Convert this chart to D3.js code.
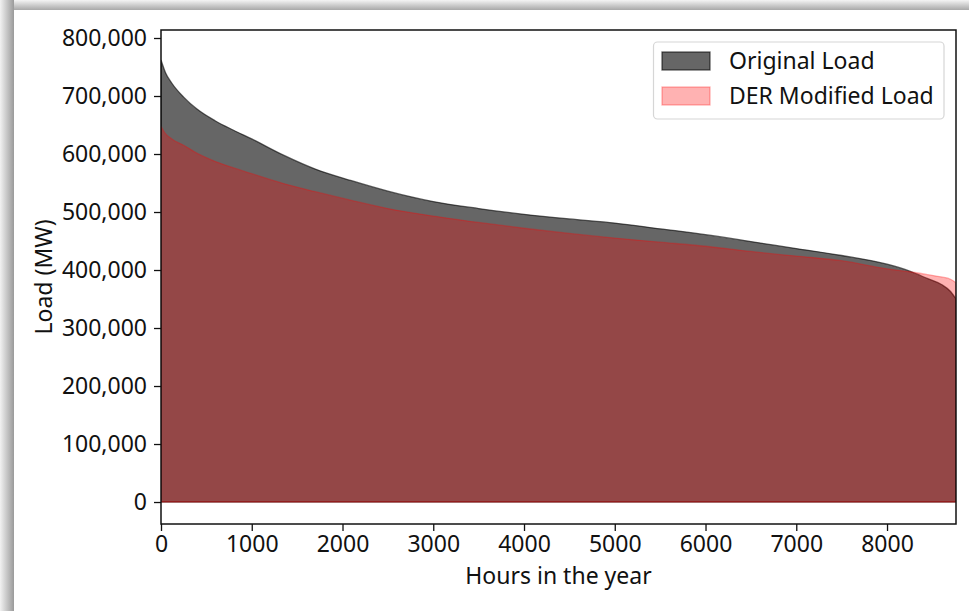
<!DOCTYPE html>
<html><head><meta charset="utf-8">
<script src="https://cdn.jsdelivr.net/npm/d3@7"></script>
<style>
body{margin:0;padding:0;background:#fff;}
svg text{font-family:"Noto Sans",sans-serif;fill:#111;}
</style></head>
<body>
<svg id="chart" width="969" height="611"></svg>
<script>
// ---- data ----
const hours = [0, 50, 120, 250, 400, 600, 800, 1000, 1350, 1700, 2100, 2500, 3000, 3500, 4000, 4500, 5000, 5500, 6000, 6500, 7000, 7500, 8000, 8250, 8450, 8600, 8700, 8760];
const originalLoad = [762000, 740000, 722000, 698000, 677000, 657000, 641000, 626000, 598000, 574000, 554000, 536000, 518000, 506000, 496000, 488000, 481000, 471000, 461000, 449000, 437000, 425000, 410000, 398000, 385000, 375000, 363000, 350000];
const derModifiedLoad = [648000, 635000, 626000, 615000, 601000, 587000, 576000, 566000, 549000, 535000, 520000, 506000, 493000, 482000, 472000, 463000, 455000, 448000, 441000, 432000, 424000, 416000, 402000, 397000, 392000, 388000, 384000, 378000];
const xTicks = [0, 1000, 2000, 3000, 4000, 5000, 6000, 7000, 8000];
const yTicks = [0, 100000, 200000, 300000, 400000, 500000, 600000, 700000, 800000];
const seriesNames = ["Original Load", "DER Modified Load"];

(function(){
const svg = d3.select("#chart");
const W = 969, H = 611;
const FS = 23;

// frame shadow
const defs = svg.append("defs");
const gl = defs.append("linearGradient").attr("id","gl").attr("x1","0").attr("x2","1").attr("y1","0").attr("y2","0");
gl.append("stop").attr("offset","0").attr("stop-color","#f2f2f2");
gl.append("stop").attr("offset","1").attr("stop-color","#9a9a9a");
const gt = defs.append("linearGradient").attr("id","gt").attr("x1","0").attr("x2","0").attr("y1","0").attr("y2","1");
gt.append("stop").attr("offset","0").attr("stop-color","#f4f4f4");
gt.append("stop").attr("offset","1").attr("stop-color","#a8a8a8");
svg.append("rect").attr("x",0).attr("y",0).attr("width",W).attr("height",10).attr("fill","url(#gt)");
svg.append("rect").attr("x",0).attr("y",0).attr("width",14).attr("height",H).attr("fill","url(#gl)");
svg.append("rect").attr("x",14).attr("y",10).attr("width",W-14).attr("height",H-10).attr("fill","#fff");

const pL = 161, pR = 956, pT = 30, pB = 524;
const x = d3.scaleLinear().domain([0, 8760]).range([pL, pR]);
const y = d3.scaleLinear().domain([-37900, 813800]).range([pB, pT]);

defs.append("clipPath").attr("id","clip").append("rect")
  .attr("x",pL).attr("y",pT).attr("width",pR-pL).attr("height",pB-pT);

const orig = hours.map((h,i)=>({h, v: originalLoad[i]}));
const der = hours.map((h,i)=>({h, v: derModifiedLoad[i]}));

const area = d3.area().x(d=>x(d.h)).y0(y(0)).y1(d=>y(d.v)).curve(d3.curveMonotoneX);

const g = svg.append("g").attr("clip-path","url(#clip)");
g.append("path").datum(orig).attr("d",area)
  .attr("fill","#000").attr("fill-opacity",0.6)
  .attr("stroke","#000").attr("stroke-opacity",0.6).attr("stroke-width",1.3);
g.append("path").datum(der).attr("d",area)
  .attr("fill","#ff0000").attr("fill-opacity",0.3)
  .attr("stroke","#ff0000").attr("stroke-opacity",0.3).attr("stroke-width",1.3);

// axes
const xAxis = d3.axisBottom(x).tickValues(xTicks).tickFormat(d3.format("d")).tickSizeOuter(0).tickSize(7).tickPadding(5);
const yAxis = d3.axisLeft(y).tickValues(yTicks).tickFormat(d3.format(",")).tickSizeOuter(0).tickSize(7).tickPadding(7);
const gx = svg.append("g").attr("transform",`translate(0,${pB})`).call(xAxis);
const gy = svg.append("g").attr("transform",`translate(${pL},0)`).call(yAxis);
[gx, gy].forEach(a=>{
  a.select(".domain").remove();
  a.selectAll(".tick line").attr("stroke","#111").attr("stroke-width",1.3);
  a.selectAll(".tick text").attr("font-size",FS).attr("font-family","Noto Sans").attr("fill","#111");
});

// spines
svg.append("rect").attr("x",pL).attr("y",pT).attr("width",pR-pL).attr("height",pB-pT)
  .attr("fill","none").attr("stroke","#111").attr("stroke-width",1.5);

// axis labels
svg.append("text").attr("x",(pL+pR)/2).attr("y",584).attr("text-anchor","middle")
  .attr("font-size",FS).text("Hours in the year");
svg.append("text").attr("transform",`translate(52,${(pT+pB)/2}) rotate(-90)`).attr("text-anchor","middle")
  .attr("font-size",FS).text("Load (MW)");

// legend
const lg = svg.append("g");
lg.append("rect").attr("x",653.5).attr("y",42).attr("width",290.5).attr("height",77).attr("rx",4)
  .attr("fill","#fff").attr("fill-opacity",0.8).attr("stroke","#d6d6d6").attr("stroke-width",1.2);
const legendStyles = [
  {fill:"#000", fo:0.6, stroke:"#000"},
  {fill:"#ff0000", fo:0.3, stroke:"#ff0000"}
];
seriesNames.forEach((name,i)=>{
  const yy = 52 + i*35;
  lg.append("rect").attr("x",662).attr("y",yy).attr("width",48).attr("height",18)
    .attr("fill",legendStyles[i].fill).attr("fill-opacity",legendStyles[i].fo)
    .attr("stroke",legendStyles[i].stroke).attr("stroke-opacity",legendStyles[i].fo).attr("stroke-width",1.3);
  lg.append("text").attr("x",729).attr("y",yy+16.5).attr("font-size",FS).text(name);
});
})();
</script>
</body></html>
